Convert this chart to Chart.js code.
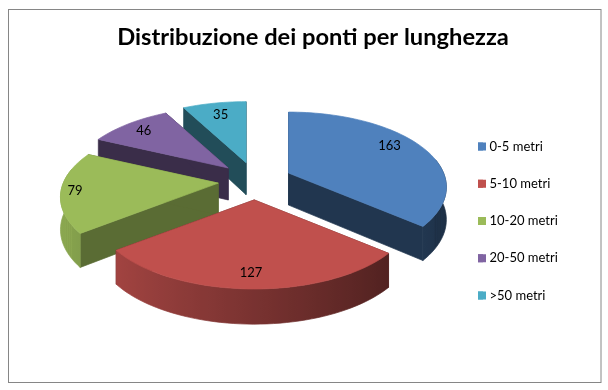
<!DOCTYPE html>
<html><head><meta charset="utf-8">
<script src="https://cdn.jsdelivr.net/npm/chart.js@4"></script>
<style>html,body{margin:0;padding:0;background:#fff}canvas{display:block}</style>
</head><body><canvas id="c" width="608" height="390"></canvas>
<script>
const categories = ['0-5 metri','5-10 metri','10-20 metri','20-50 metri','>50 metri'];
const values = [163,127,79,46,35];
const colors = ['#4F81BD','#C0504D','#9BBB59','#8064A2','#4BACC6'];
const titleText = 'Distribuzione dei ponti per lunghezza';

// look of the 3D projection
const view = {halfWidth:155, halfHeight:72.4, persp:0.187, depth:32, explodeX:0.95, explodeY:1.04};
const drawOrder = [4,3,2,0,1];
const sideShade = [0.42,0.5,0.58,0.45,0.45];
const labelReach = [0.82,0.815,0.91,0.85,0.8];
const labelTurnDeg = [-5,0,0,0,0];
const labelFont = '13px Lato';
const legendBox = 8;

function shade(hex,f){
  const n=parseInt(hex.slice(1),16);
  return `rgb(${Math.round((n>>16&255)*f)},${Math.round((n>>8&255)*f)},${Math.round((n&255)*f)})`;
}
function project(ax,ay,theta,r){
  const u=Math.sin(theta)*r, v=-Math.cos(theta)*r, w=1-view.persp*v;
  return {x:ax+view.halfWidth*u/w, y:ay+view.halfHeight*v/w, v:v, u:u};
}
function fillPoly(ctx,pts,col){
  ctx.beginPath();pts.forEach((p,i)=>i?ctx.lineTo(p.x,p.y):ctx.moveTo(p.x,p.y));ctx.closePath();
  ctx.fillStyle=col;ctx.strokeStyle=col;ctx.lineWidth=0.7;ctx.fill();ctx.stroke();
}
const down=(p)=>({x:p.x,y:p.y+view.depth*(1+0.1*p.v)});
function sliceApex(a){
  const p=a.getProps(['x','y','startAngle','endAngle','outerRadius']);
  const s=p.startAngle+Math.PI/2, e=p.endAngle+Math.PI/2, mid=(s+e)/2;
  const off=a.options.offset/p.outerRadius;
  return {s,e,mid,
    x:p.x+view.explodeX*view.halfWidth*off*Math.sin(mid),
    y:p.y-view.explodeY*view.halfHeight*off*Math.cos(mid),u:0,v:0};
}

const pie3d = {
  id:'pie3d',
  beforeDraw(chart){
    const ctx=chart.ctx;ctx.save();ctx.fillStyle='#fff';ctx.fillRect(0,0,608,390);
    ctx.strokeStyle='#868686';ctx.lineWidth=1;ctx.strokeRect(8.5,9.5,592.5,373);ctx.restore();
  },
  afterLayout(chart){
    const t=chart.titleBlock; t.left=0; t.right=626;
    const l=chart.legend, pad=l.options.labels.padding;
    l.left=478-pad; l.right=600; l.top=140-pad; l.bottom=370;
  },
  beforeDatasetDraw(chart,args){
    const ctx=chart.ctx, arcs=args.meta.data;
    ctx.save();
    drawOrder.forEach(i=>{
      const apex=sliceApex(arcs[i]), {s,e}=apex;
      const steps=Math.max(8,Math.ceil((e-s)/(Math.PI/90)));
      const rim=[];
      for(let k=0;k<=steps;k++) rim.push(project(apex.x,apex.y,s+(e-s)*k/steps,1));
      const side=shade(colors[i],sideShade[i]);
      fillPoly(ctx,[apex,rim[0],down(rim[0]),down(apex)],side);
      fillPoly(ctx,[apex,rim[steps],down(rim[steps]),down(apex)],side);
      const front=rim.filter(q=>q.v>=-0.2);
      if(front.length>1){
        const x0=Math.min(...front.map(q=>q.x)), x1=Math.max(...front.map(q=>q.x));
        const g=ctx.createLinearGradient(x0,0,x1,0);
        front.slice().sort((a,b)=>a.x-b.x).forEach(q=>g.addColorStop((q.x-x0)/(x1-x0||1),shade(colors[i],0.63-0.27*q.u)));
        fillPoly(ctx,[...front,...front.slice().reverse().map(down)],g);
      }
      fillPoly(ctx,[apex,...rim],colors[i]);
    });
    ctx.font=labelFont;ctx.fillStyle='#000';ctx.textAlign='center';ctx.textBaseline='middle';
    arcs.forEach((a,i)=>{
      const apex=sliceApex(a);
      const q=project(apex.x,apex.y,apex.mid+labelTurnDeg[i]*Math.PI/180,1);
      ctx.fillText(String(values[i]),apex.x+(q.x-apex.x)*labelReach[i],apex.y+(q.y-apex.y)*labelReach[i]);
    });
    ctx.restore();
    return false;
  },
  afterDraw(chart){
    // legend swatches sit closer to their text than the default gap allows
    const ctx=chart.ctx,l=chart.legend,o=l.options.labels,h=o.font.size,step=h+o.padding;
    ctx.save();
    colors.forEach((c,i)=>{
      ctx.fillStyle=c;
      ctx.fillRect(l.left+o.padding,l.top+o.padding+i*step+(h-legendBox)/2,legendBox,legendBox);
    });
    ctx.restore();
  }
};

new Chart(document.getElementById('c'),{
  type:'pie',
  data:{labels:categories,datasets:[{data:values,backgroundColor:colors,borderWidth:0,offset:27}]},
  options:{
    responsive:false,animation:false,
    layout:{padding:{left:0,right:98,top:0,bottom:88}},
    plugins:{
      tooltip:{enabled:false},
      title:{display:true,text:titleText,color:'#000',font:{family:'Lato',size:23.7,weight:'bold'},padding:{top:23,bottom:8.56}},
      legend:{position:'chartArea',align:'start',labels:{boxWidth:5,boxHeight:8,padding:24.25,color:'#000',font:{family:'Lato',size:13}}}
    }
  },
  plugins:[pie3d]
});
</script></body></html>
